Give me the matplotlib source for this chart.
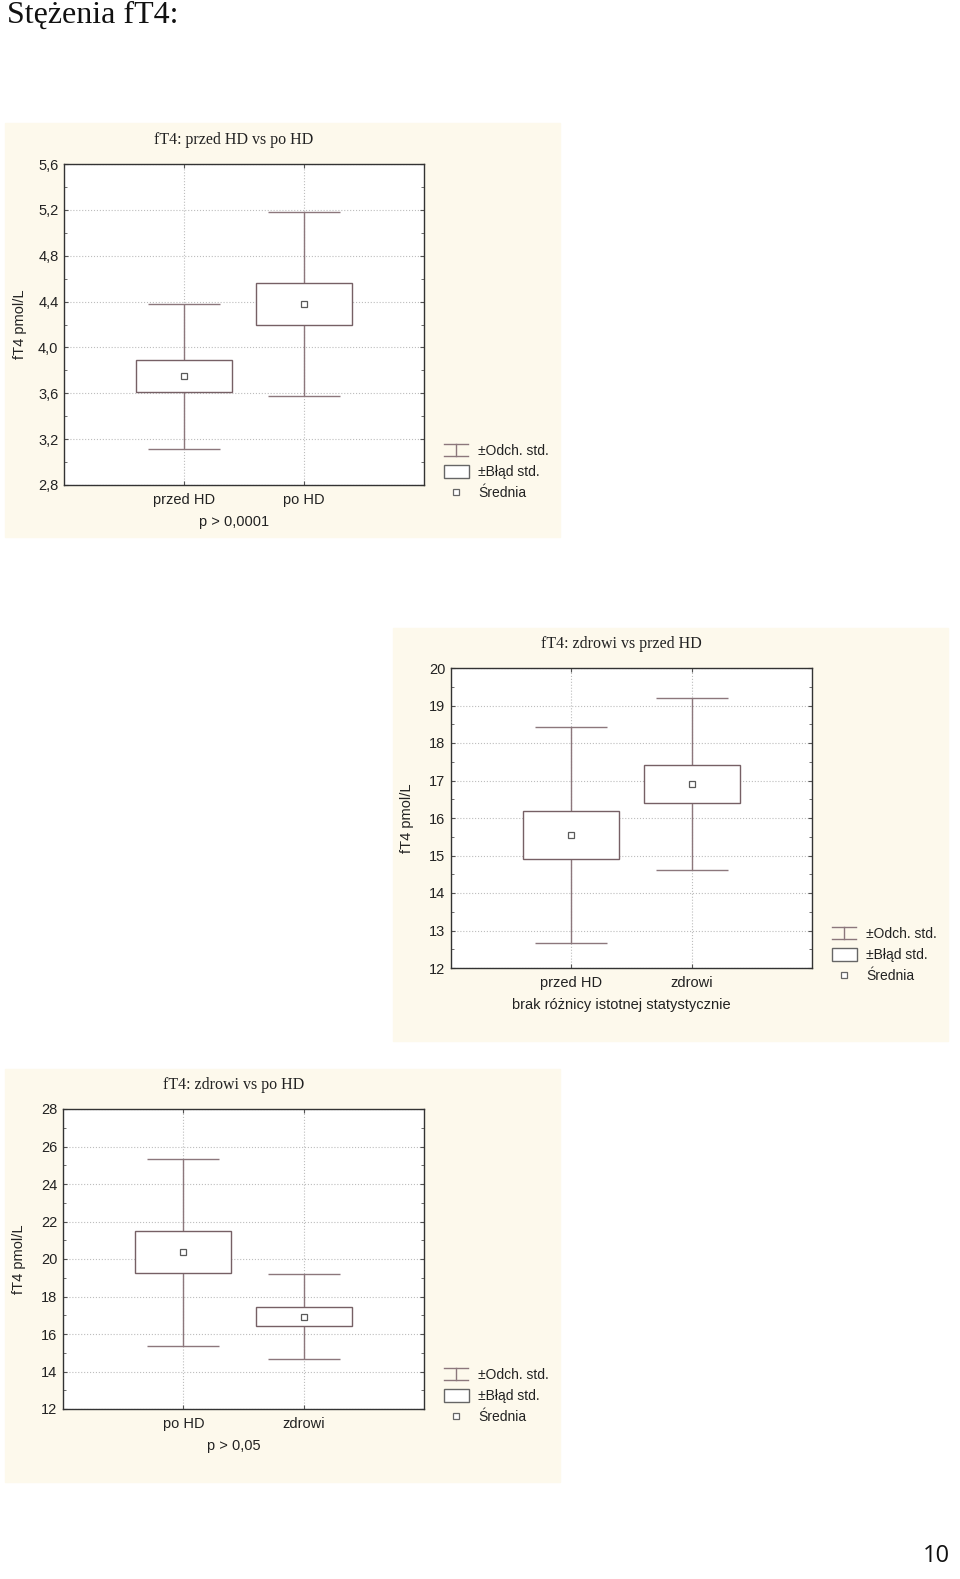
import matplotlib.pyplot as plt
from matplotlib.patches import Rectangle
from matplotlib.ticker import MultipleLocator, FuncFormatter

W, H = 960, 1579

# panel 1: przed HD vs po HD
groups_1 = ['przed HD', 'po HD']
mean_1 = [3.75, 4.38]
se_lo_1 = [3.61, 4.20]
se_hi_1 = [3.89, 4.56]
sd_lo_1 = [3.11, 3.58]
sd_hi_1 = [4.38, 5.18]

# panel 2: zdrowi vs przed HD
groups_2 = ['przed HD', 'zdrowi']
mean_2 = [15.55, 16.90]
se_lo_2 = [14.92, 16.41]
se_hi_2 = [16.20, 17.42]
sd_lo_2 = [12.67, 14.62]
sd_hi_2 = [18.43, 19.19]

# panel 3: zdrowi vs po HD
groups_3 = ['po HD', 'zdrowi']
mean_3 = [20.35, 16.90]
se_lo_3 = [19.26, 16.41]
se_hi_3 = [21.50, 17.43]
sd_lo_3 = [15.37, 14.65]
sd_hi_3 = [25.36, 19.19]

SANS = ['Liberation Sans', 'DejaVu Sans']
SERIF = ['Liberation Serif', 'DejaVu Serif']
BG = '#fdf9ec'
LINE = '#8c777c'
BOX = '#766065'


def fx(px):
    return px / W


def fy(py):
    return 1 - py / H


def box_panel(fig, bg, axbox, title, groups, mean, se_lo, se_hi, sd_lo, sd_hi,
              ylim, ystep, note, decimals):
    # cream background of the whole exported graph
    x0, y0, x1, y1 = bg
    fig.patches.append(Rectangle((fx(x0), fy(y1)), fx(x1 - x0), (y1 - y0) / H,
                                 transform=fig.transFigure, color=BG, zorder=-5))
    l, t, r, b = axbox
    ax = fig.add_axes([fx(l), fy(b), fx(r - l), (b - t) / H])
    ax.set_zorder(2)
    ax.set_facecolor('white')
    ax.set_xlim(0, 3)
    ax.set_ylim(*ylim)
    xs = [1, 2]
    for i, x in enumerate(xs):
        ax.vlines(x, sd_lo[i], sd_hi[i], color=LINE, lw=1.0, zorder=2)
        ax.hlines([sd_lo[i], sd_hi[i]], x - 0.3, x + 0.3, color=LINE, lw=1.0, zorder=2)
        ax.add_patch(Rectangle((x - 0.4, se_lo[i]), 0.8, se_hi[i] - se_lo[i],
                               facecolor='white', edgecolor=BOX, lw=1.0, zorder=3))
        ax.plot(x, mean[i], marker='s', ms=5, mfc='white', mec='#5a5a5a', mew=0.9, zorder=4)
    ax.set_xticks(xs)
    ax.set_xticklabels(groups, fontsize=10.5, family=SANS, color='#222222')
    ax.yaxis.set_major_locator(MultipleLocator(ystep))
    ax.yaxis.set_minor_locator(MultipleLocator(ystep / 2))
    if decimals:
        ax.yaxis.set_major_formatter(FuncFormatter(lambda v, p: f'{v:.1f}'.replace('.', ',')))
    else:
        ax.yaxis.set_major_formatter(FuncFormatter(lambda v, p: f'{v:.0f}'))
    for lab in ax.get_yticklabels():
        lab.set_family(SANS)
    ax.tick_params(axis='y', which='both', direction='in', right=True, labelsize=10.5,
                   labelcolor='#222222', color='#555555', pad=4)
    ax.tick_params(axis='y', which='major', length=3)
    ax.tick_params(axis='y', which='minor', length=2)
    ax.tick_params(axis='x', direction='in', top=True, length=3, pad=6, color='#555555')
    ax.grid(True, which='major', ls=':', color='#bdbdbd', lw=0.8, zorder=1)
    ax.set_axisbelow(True)
    for s in ax.spines.values():
        s.set_color('#333333')
        s.set_linewidth(1.0)
    cx = (l + r) / 2 - 10
    fig.text(fx(cx), fy(t - 24), title, family=SERIF, fontsize=11.5, ha='center',
             va='center', color='#222222')
    fig.text(fx(cx), fy(b + 37), note, family=SANS, fontsize=10.5, ha='center',
             va='center', color='#222222')
    fig.text(fx(l - 44), fy((t + b) / 2), 'fT4 pmol/L', family=SANS, fontsize=10.5,
             rotation=90, ha='center', va='center', color='#222222')
    # legend
    lx = r + 20
    ly = b - 35
    fig.add_artist(plt.Line2D([fx(lx + 12)] * 2, [fy(ly - 6), fy(ly + 6)], color=LINE, lw=1))
    fig.add_artist(plt.Line2D([fx(lx), fx(lx + 24)], [fy(ly - 6)] * 2, color=LINE, lw=1))
    fig.add_artist(plt.Line2D([fx(lx), fx(lx + 24)], [fy(ly + 6)] * 2, color=LINE, lw=1))
    fig.patches.append(Rectangle((fx(lx), fy(ly + 28)), fx(25), 13 / H,
                                 transform=fig.transFigure, facecolor='white',
                                 edgecolor='#666666', lw=1, zorder=2))
    fig.add_artist(plt.Line2D([fx(lx + 12)], [fy(ly + 42)], marker='s', ms=4,
                              mfc='white', mec='#666666', mew=0.9))
    for k, txt in enumerate(['±Odch. std.', '±Błąd std.', 'Średnia']):
        fig.text(fx(lx + 34), fy(ly + 1 + 21 * k), txt, family=SANS, fontsize=10,
                 ha='left', va='center', color='#222222')
    return ax


fig = plt.figure(figsize=(W / 100, H / 100), dpi=100)
fig.patch.set_facecolor('white')

fig.text(fx(7), fy(15), 'Stężenia fT4:', family=SERIF, fontsize=23, ha='left',
         va='center', color='#111111')

box_panel(fig, (5, 123, 560, 537), (64, 164, 424, 485), 'fT4: przed HD vs po HD',
          groups_1, mean_1, se_lo_1, se_hi_1, sd_lo_1, sd_hi_1,
          (2.8, 5.6), 0.4, 'p > 0,0001', True)

box_panel(fig, (393, 628, 948, 1041), (451, 668, 812, 968), 'fT4: zdrowi vs przed HD',
          groups_2, mean_2, se_lo_2, se_hi_2, sd_lo_2, sd_hi_2,
          (12, 20), 1, 'brak różnicy istotnej statystycznie', False)

box_panel(fig, (5, 1069, 560, 1482), (63, 1109, 424, 1409), 'fT4: zdrowi vs po HD',
          groups_3, mean_3, se_lo_3, se_hi_3, sd_lo_3, sd_hi_3,
          (12, 28), 2, 'p > 0,05', False)

fig.text(fx(936), fy(1556), '10', family=['Open Sans', 'DejaVu Sans'], fontsize=17,
         ha='center', va='center', color='#111111')

fig.savefig('out.png', dpi=100)
